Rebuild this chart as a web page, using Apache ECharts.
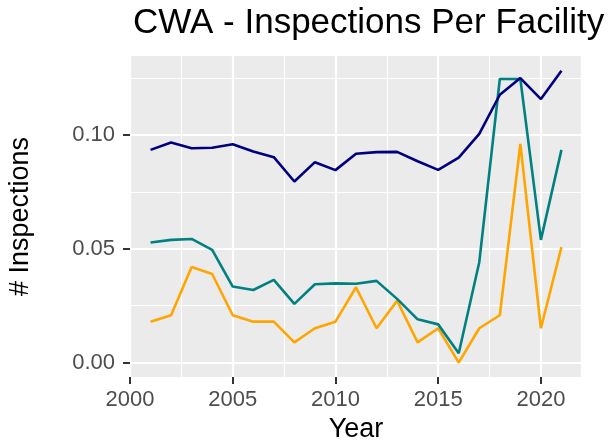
<!DOCTYPE html>
<html>
<head>
<meta charset="utf-8">
<script src="https://cdn.jsdelivr.net/npm/echarts@6/dist/echarts.min.js"></script>
<style>
  html, body { margin: 0; padding: 0; background: #ffffff; }
  #chart { width: 609px; height: 445px; }
</style>
</head>
<body>
<div id="chart"></div>
<script>
// 数据
var years = [2001, 2002, 2003, 2004, 2005, 2006, 2007, 2008, 2009, 2010, 2011,
             2012, 2013, 2014, 2015, 2016, 2017, 2018, 2019, 2020, 2021];
var navyValues = [0.0934, 0.0966, 0.0941, 0.0943, 0.0959, 0.0927, 0.0902, 0.0795, 0.0880, 0.0845, 0.0917,
                  0.0924, 0.0925, 0.0884, 0.0846, 0.0900, 0.1004, 0.1176, 0.1249, 0.1157, 0.1281];
var tealValues = [0.0527, 0.0539, 0.0543, 0.0495, 0.0334, 0.0319, 0.0363, 0.0258, 0.0344, 0.0348, 0.0346,
                  0.0359, 0.0280, 0.0190, 0.0168, 0.0041, 0.0441, 0.1245, 0.1245, 0.0539, 0.0934];
var orangeValues = [0.0180, 0.0208, 0.0420, 0.0389, 0.0208, 0.0180, 0.0180, 0.0089, 0.0151, 0.0180, 0.0331,
                    0.0151, 0.0272, 0.0089, 0.0151, 0.0000, 0.0151, 0.0208, 0.0960, 0.0151, 0.0507];
// 刻度
var yMajorTicks = [0, 0.05, 0.10];
var yMinorTicks = [0.025, 0.075, 0.125];
var xMinorTicks = [2002.5, 2007.5, 2012.5, 2017.5];

function pairs(values) {
  return years.map(function (y, i) { return [y, values[i]]; });
}

var chart = echarts.init(document.getElementById('chart'), null, { renderer: 'canvas' });

var fontFamily = '"Liberation Sans", Arial, sans-serif';
var xMin = 2000, xMax = 2022;
var yMin = -0.0063, yMax = 0.1346;

var option = {
  backgroundColor: '#ffffff',
  animation: false,
  title: {
    text: 'CWA - Inspections Per Facility',
    left: 128,
    top: 1,
    textStyle: { fontFamily: fontFamily, fontSize: 35, fontWeight: 'normal', color: '#000000' }
  },
  grid: {
    left: 130, right: 27, top: 56, bottom: 68,
    outerBoundsMode: 'none',
    containLabel: false,
    show: true, backgroundColor: '#EBEBEB', borderWidth: 0
  },
  xAxis: [{
    type: 'value',
    min: xMin, max: xMax, interval: 5,
    name: 'Year',
    nameLocation: 'middle',
    nameGap: 39,
    nameTextStyle: { fontFamily: fontFamily, fontSize: 27, color: '#000000' },
    axisLine: { show: false, onZero: false },
    axisTick: { show: true, length: 7, lineStyle: { color: '#333333', width: 2 } },
    axisLabel: {
      margin: 12, showMaxLabel: false,
      fontFamily: fontFamily, fontSize: 22, color: '#4D4D4D',
      formatter: function (v) { return String(v); }
    },
    splitLine: { show: true, lineStyle: { color: '#ffffff', width: 2.2 } }
  }, {
    type: 'value',
    min: xMin, max: xMax,
    position: 'bottom',
    axisLine: { show: false, onZero: false },
    axisTick: { show: false, customValues: xMinorTicks },
    axisLabel: { show: false },
    splitLine: { show: true, lineStyle: { color: '#ffffff', width: 1.1 } }
  }],
  yAxis: [{
    type: 'value',
    min: yMin, max: yMax,
    name: '# Inspections',
    nameLocation: 'middle',
    nameRotate: 90,
    nameGap: 96,
    nameTextStyle: { fontFamily: fontFamily, fontSize: 27, color: '#000000' },
    axisLine: { show: false, onZero: false },
    axisTick: { show: true, length: 7, customValues: yMajorTicks, lineStyle: { color: '#333333', width: 2 } },
    axisLabel: {
      margin: 15, customValues: yMajorTicks,
      fontFamily: fontFamily, fontSize: 22, color: '#4D4D4D',
      formatter: function (v) { return v.toFixed(2); }
    },
    splitLine: { show: true, lineStyle: { color: '#ffffff', width: 2.2 } }
  }, {
    type: 'value',
    min: yMin, max: yMax,
    position: 'left',
    axisLine: { show: false, onZero: false },
    axisTick: { show: false, customValues: yMinorTicks },
    axisLabel: { show: false },
    splitLine: { show: true, lineStyle: { color: '#ffffff', width: 1.1 } }
  }],
  series: [{
    name: 'orange', type: 'line', data: pairs(orangeValues),
    showSymbol: false, symbol: 'none',
    lineStyle: { color: '#FFA500', width: 2.6 }
  }, {
    name: 'teal', type: 'line', data: pairs(tealValues),
    showSymbol: false, symbol: 'none',
    lineStyle: { color: '#008080', width: 2.6 }
  }, {
    name: 'navy', type: 'line', data: pairs(navyValues),
    showSymbol: false, symbol: 'none',
    lineStyle: { color: '#000080', width: 2.6 }
  }]
};

chart.setOption(option);
</script>
</body>
</html>
